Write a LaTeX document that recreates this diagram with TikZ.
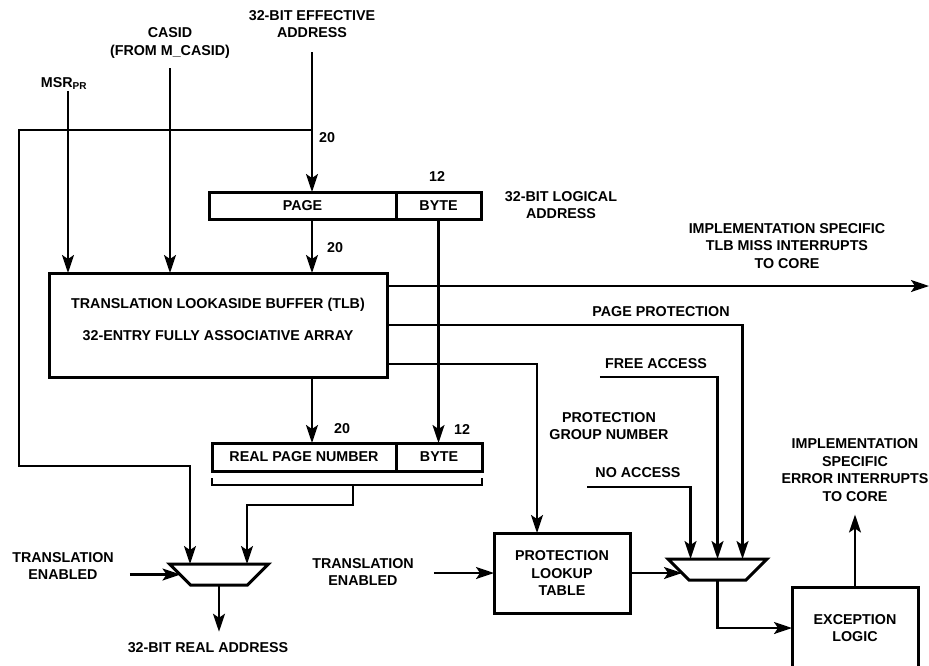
\documentclass[tikz,border=0pt]{standalone}
\usepackage{fontspec}
\setmainfont{Liberation Sans}
\usepackage{tikz}
\usetikzlibrary{arrows.meta,positioning}

\begin{document}
\begin{tikzpicture}[x=1pt, y=-1pt, >={Stealth[length=18pt,width=12pt,inset=4pt]},
  every node/.style={font=\fontsize{14.3}{17.5}\selectfont\bfseries},
  lbl/.style={align=center, inner sep=0pt},
  box/.style={draw, line width=3pt, inner sep=0pt, outer sep=0pt, align=center},
  field/.style={box, minimum height=27pt},
  mux/.style={minimum width=99pt, minimum height=21pt, inner sep=0pt, outer sep=0pt},
  muxline/.style={line width=3pt, line join=miter},
  wire/.style={line width=2.2pt}]
\clip (0,0) rectangle (929,665);
% inputs at the top
\node[lbl] (ea) at (312,24) {32-BIT EFFECTIVE\\ADDRESS};
\node[lbl] (casid) at (170,43) {CASID\\(FROM M\_CASID)};
\node[lbl] (msr) at (64,83.5) {MSR\textsubscript{PR}};
% logical address
\node[field,minimum width=187pt] (page) at (302.5,205.5) {PAGE};
\node[field,minimum width=85pt,right=0pt of page] (byte) {BYTE};
\node[lbl] (twelveA) at (437,177) {12};
\node[lbl] (twentyA) at (327,138) {20};
\node[lbl] (twentyB) at (335,248) {20};
\node[lbl] (logaddr) at (561,205) {32-BIT LOGICAL\\ADDRESS};
% TLB
\node[box,minimum width=338pt,minimum height=104pt] (tlb) at (218,325) {};
\node[lbl] (tlbtxt) at (218,319) {TRANSLATION LOOKASIDE BUFFER (TLB)\\[14.5pt]32-ENTRY FULLY ASSOCIATIVE ARRAY};
% real address
\node[field,minimum width=184pt,minimum height=28pt] (rpn) at (304,457) {REAL PAGE NUMBER};
\node[field,minimum width=86pt,minimum height=28pt,right=0pt of rpn] (rbyte) {BYTE};
\node[lbl] (twentyC) at (342,429) {20};
\node[lbl] (twelveB) at (462,429) {12};
\coordinate (brk) at (353,485);
% muxes and boxes
\node[mux] (mux1) at (219,574.5) {};
\draw[muxline] (mux1.north west) -- (mux1.north east) -- ([xshift=-21pt]mux1.south east)
  -- ([xshift=21pt]mux1.south west) -- cycle;
\node[lbl] (tenA) at (63,566) {TRANSLATION\\ENABLED};
\node[lbl] (raddr) at (208,648) {32-BIT REAL ADDRESS};
\node[lbl] (tenB) at (363,572) {TRANSLATION\\ENABLED};
\node[box,minimum width=136pt,minimum height=80pt] (plt) at (562,573) {PROTECTION\\LOOKUP\\TABLE};
\node[lbl] (pgn) at (609,426) {PROTECTION\\GROUP NUMBER};
\node[mux] (mux2) at (717.5,569.5) {};
\draw[muxline] (mux2.north west) -- (mux2.north east) -- ([xshift=-21pt]mux2.south east)
  -- ([xshift=21pt]mux2.south west) -- cycle;
\node[lbl] (free) at (656,364) {FREE ACCESS};
\node[lbl] (noacc) at (638,473) {NO ACCESS};
\node[lbl] (pprot) at (661,312) {PAGE PROTECTION};
\node[lbl] (miss) at (787,246) {IMPLEMENTATION SPECIFIC\\TLB MISS INTERRUPTS\\TO CORE};
\coordinate (missout) at (929,286);
\node[box,minimum width=126pt,minimum height=82pt] (exc) at (855,628) {EXCEPTION\\LOGIC};
\node[lbl] (err) at (855,470) {IMPLEMENTATION\\SPECIFIC\\ERROR INTERRUPTS\\TO CORE};
% connections
\draw[wire,->] ([xshift=4pt,yshift=-1pt]msr.south) -- ([xshift=4pt]msr.south |- tlb.north);
\draw[wire,->] ([yshift=-10pt]casid.south) -- (casid.south |- tlb.north);
\draw[wire,->] ([yshift=-14pt]ea.south) -- (ea.south |- page.north);
\draw[wire,->] (ea.south |- page.south) -- (ea.south |- tlb.north);
\draw[wire,->] (ea.south |- 0,130) -- (19,130) -- (19,466) -| ([xshift=-29pt]mux1.north);
\draw[wire,->] (ea.south |- tlb.south) -- (ea.south |- rpn.north);
\draw[wire,->] (byte.south) -- (byte.south |- rbyte.north);
\draw[wire] ([yshift=-7pt]rpn.south west) -- ([yshift=-14pt]rpn.south west)
  -- ([yshift=-14pt]rbyte.south east) -- ([yshift=-7pt]rbyte.south east);
\draw[wire,->] (brk) -- (353,505) -| ([xshift=28pt]mux1.north);
\draw[wire,->] ([xshift=16pt]tenA.east |- mux1.west) -- ([xshift=11pt]mux1.west);
\draw[wire,->,shorten >=11pt] (mux1.south) -- (mux1.south |- raddr.north);
\draw[wire,->] ([yshift=39pt]tlb.east) -- (missout);
\draw[wire,->] (tlb.east) -| ([xshift=25pt]mux2.north);
\draw[wire,->] ([yshift=-39pt]tlb.east) -| ([xshift=-25pt]plt.north);
\draw[wire,->] ([xshift=20pt]tenB.east |- plt.west) -- (plt.west);
\draw[wire,->] (plt.east) -- ([xshift=14pt]plt.east -| mux2.west);
\draw[wire,->] ([xshift=-5pt,yshift=-13pt]free.west) -| (mux2.north);
\draw[wire,->] ([xshift=-8pt,yshift=-14pt]noacc.west) -| ([xshift=-27pt]mux2.north);
\draw[wire,->] (mux2.south) |- (exc.west);
\draw[wire,->] (exc.north) -- ([yshift=-13pt]err.south);
\end{tikzpicture}
\end{document}
